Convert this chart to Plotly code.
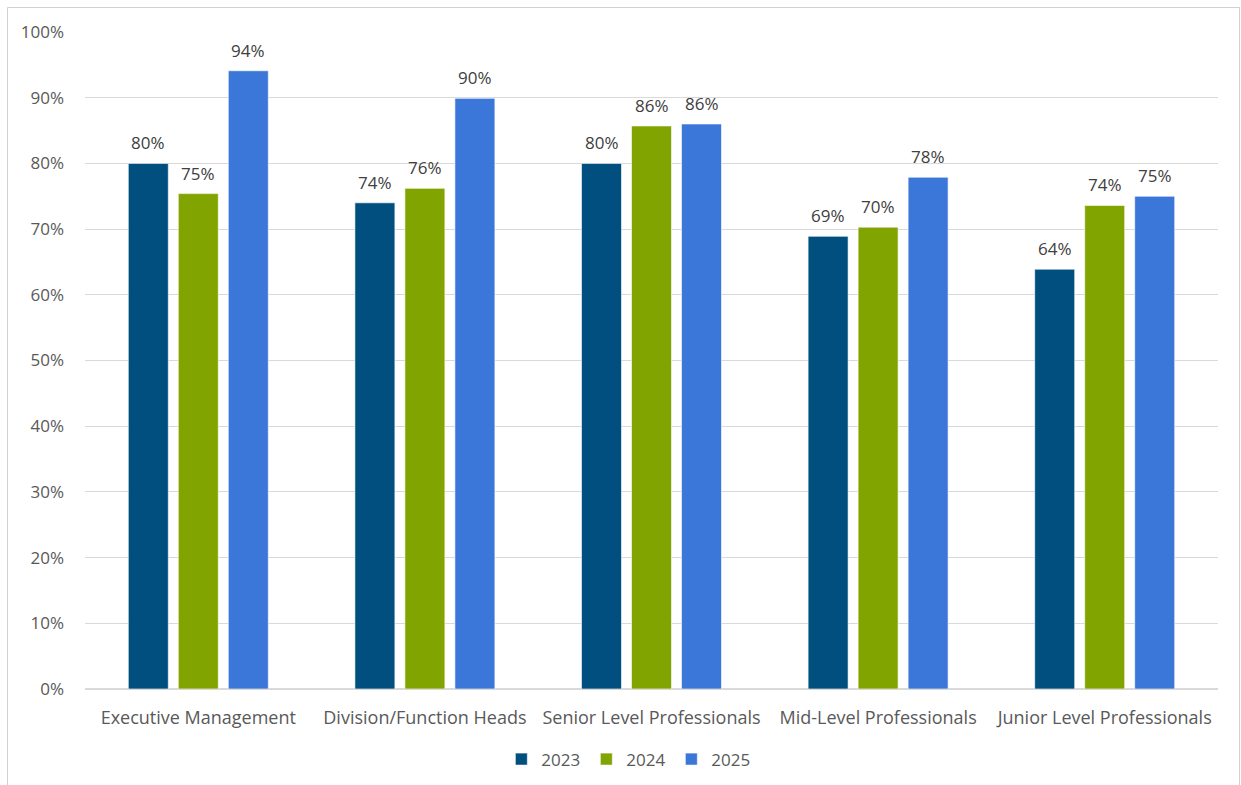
import plotly.graph_objects as go

categories = ["Executive Management", "Division/Function Heads", "Senior Level Professionals",
              "Mid-Level Professionals", "Junior Level Professionals"]
years = ["2023", "2024", "2025"]
v2023 = [80.0, 74.0, 80.0, 68.9, 63.9]
v2024 = [75.4, 76.2, 85.7, 70.3, 73.6]
v2025 = [94.1, 89.9, 86.0, 77.9, 75.0]
labels2023 = ["80%", "74%", "80%", "69%", "64%"]
labels2024 = ["75%", "76%", "86%", "70%", "74%"]
labels2025 = ["94%", "90%", "86%", "78%", "75%"]
colors = ["#004F7F", "#82A400", "#3B77D8"]
tick_vals = [0, 10, 20, 30, 40, 50, 60, 70, 80, 90, 100]
tick_text = [f"{t}%" for t in tick_vals]

W, H = 1241, 785
L, R, T, B = 85, 23, 32, 96
pw, ph = W - L - R, H - T - B
FONT = "Open Sans, sans-serif"

fig = go.Figure()
series = list(zip(years, [v2023, v2024, v2025], [labels2023, labels2024, labels2025], colors))
offsets = [-50, 0, 50]
annotations = []
for (name, vals, labs, col), off in zip(series, offsets):
    fig.add_trace(go.Bar(
        x=categories, y=vals, name=name,
        marker=dict(color=col, line=dict(color="rgba(255,255,255,0.6)", width=1)),
    ))
    for c, v, t in zip(categories, vals, labs):
        annotations.append(dict(
            x=c, y=v, xref="x", yref="y", text=t, showarrow=False,
            xshift=off, yshift=7, yanchor="bottom", xanchor="center",
            font=dict(family=FONT, size=17, color="#404040"),
        ))

def px_x(p):
    return (p - L) / pw

def px_y(p):
    return (H - B - p) / ph

border = dict(color="#D0D0D0", width=1)
shapes = [
    dict(type="line", xref="paper", yref="paper", x0=px_x(7.5), x1=px_x(1240), y0=px_y(7.5), y1=px_y(7.5), line=border),
    dict(type="line", xref="paper", yref="paper", x0=px_x(7.5), x1=px_x(7.5), y0=px_y(7.5), y1=px_y(785), line=border),
    dict(type="line", xref="paper", yref="paper", x0=px_x(1239.5), x1=px_x(1239.5), y0=px_y(7.5), y1=px_y(785), line=border),
]

fig.update_layout(
    width=W, height=H,
    margin=dict(l=L, r=R, t=T, b=B, pad=0, autoexpand=False),
    paper_bgcolor="white", plot_bgcolor="white",
    barmode="group", bargap=0.338, bargroupgap=0.2,
    font=dict(family=FONT, color="#595959", size=17),
    showlegend=True,
    legend=dict(orientation="h", x=0.48, xanchor="center", y=-0.08, yanchor="top",
                font=dict(size=17, color="#595959"), itemwidth=30,
                entrywidth=40, entrywidthmode="pixels",
                traceorder="normal"),
    yaxis=dict(range=[0, 100], tickvals=tick_vals, ticktext=tick_text,
               showgrid=True, gridcolor="#D9D9D9", gridwidth=1,
               zeroline=True, zerolinecolor="#D9D9D9", zerolinewidth=2,
               showline=False, ticks="", ticklabelstandoff=20,
               tickfont=dict(size=17, color="#595959")),
    xaxis=dict(showline=False, ticks="", tickfont=dict(size=18, color="#595959"),
               ticklabelstandoff=16),
    shapes=shapes,
    annotations=annotations,
)

fig.write_html("out.html")
